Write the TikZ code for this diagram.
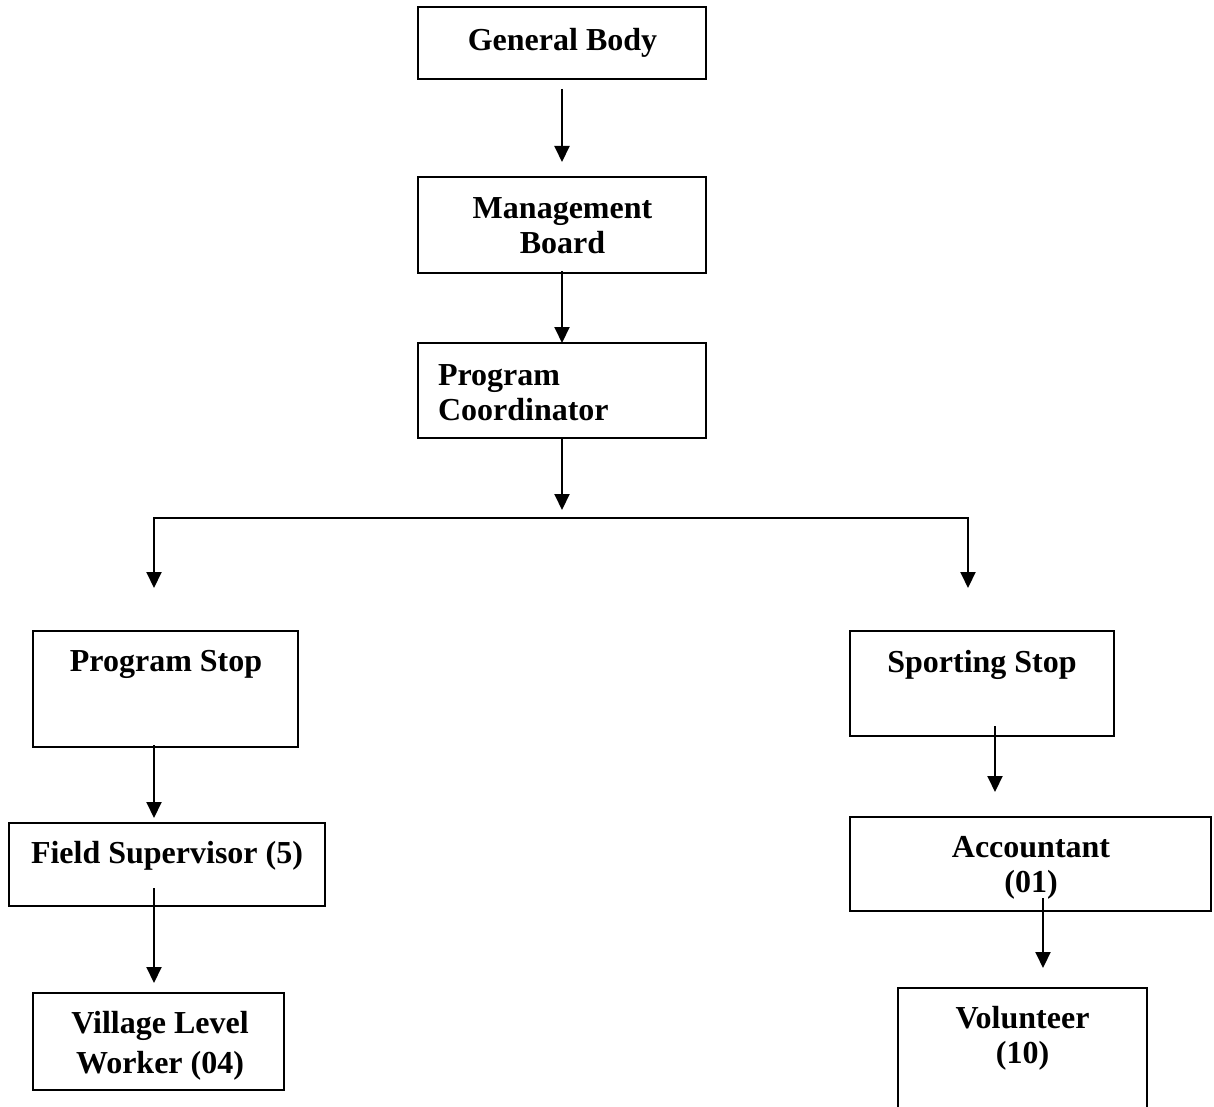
\documentclass[tikz,border=0pt]{standalone}
\usepackage{fontspec}
\setmainfont{Liberation Serif}
\usetikzlibrary{arrows.meta}

\begin{document}
\begin{tikzpicture}
	[x=1pt,y=-1pt,>={Triangle[length=16pt,width=15pt]},line width=2pt,
		box node/.style={draw,anchor=north west,inner sep=0pt,outer sep=0pt},
		text node/.style={inner sep=0pt,align=center,font=\fontsize{32}{35}\selectfont\bfseries}]

	\clip (0,0) rectangle (1214,1107);

	\node[box node,minimum width=288pt,minimum height=72pt]  (gb)  at (418,7)   {};
	\node[box node,minimum width=288pt,minimum height=96pt]  (mb)  at (418,177) {};
	\node[box node,minimum width=288pt,minimum height=95pt]  (pc)  at (418,343) {};
	\node[box node,minimum width=265pt,minimum height=116pt] (ps)  at (33,631)  {};
	\node[box node,minimum width=316pt,minimum height=83pt]  (fs)  at (9,823)   {};
	\node[box node,minimum width=251pt,minimum height=97pt]  (vlw) at (33,993)  {};
	\node[box node,minimum width=264pt,minimum height=105pt] (ss)  at (850,631) {};
	\node[box node,minimum width=361pt,minimum height=94pt]  (acc) at (850,817) {};
	\node[box node,minimum width=249pt,minimum height=150pt] (vol) at (898,988) {};

	\node[text node] (gbt)  at (562.5,42.7) {General Body};
	\node[text node] (mbt)  at (562.5,226) {Management\\Board};
	\node[text node,align=left,anchor=west] (pct) at (437,393) {Program\\Coordinator};
	\node[text node] (pst)  at (166,664.7) {Program Stop};
	\node[text node] (fst)  at (167,855.7) {Field Supervisor (5)};
	\node[text node] (vlwt) at (160,1045.5) {Village Level\\[5pt]Worker (04)};
	\node[text node] (sst)  at (982,664.7) {Sporting Stop};
	\node[text node] (acct) at (1031,868) {Accountant\\(01)};
	\node[text node] (volt) at (1022.5,1038) {Volunteer\\(10)};

	\coordinate (lbus) at (154,518);
	\coordinate (rbus) at (968,518);
	\coordinate (lend) at (154,588);
	\coordinate (rend) at (968,588);

	\draw[<->] (lend) -- (lbus) -- (rbus) -- (rend);

	\path[->]
	(gb) edge [shorten <=10pt,shorten >=15pt]  (mb)
	(mb) edge [shorten <=-2pt]  (pc)
	(pc) edge [shorten >=8pt]  (pc |- lbus)
	([xshift=-11.5pt]ps.south) edge [shorten <=-2pt,shorten >=5pt]  ([xshift=-13pt]fs.north)
	([xshift=-13pt]fs.south) edge [shorten <=-18pt,shorten >=10pt]  ([xshift=-4.5pt]vlw.north)
	% right branch
	([xshift=13pt]ss.south) edge [shorten <=-10pt,shorten >=25pt]  ([xshift=-35.5pt]acc.north)
	([xshift=12.5pt]acc.south) edge [shorten <=-13pt,shorten >=20pt]  ([xshift=20.5pt]vol.north)
	;

\end{tikzpicture}
\end{document}
